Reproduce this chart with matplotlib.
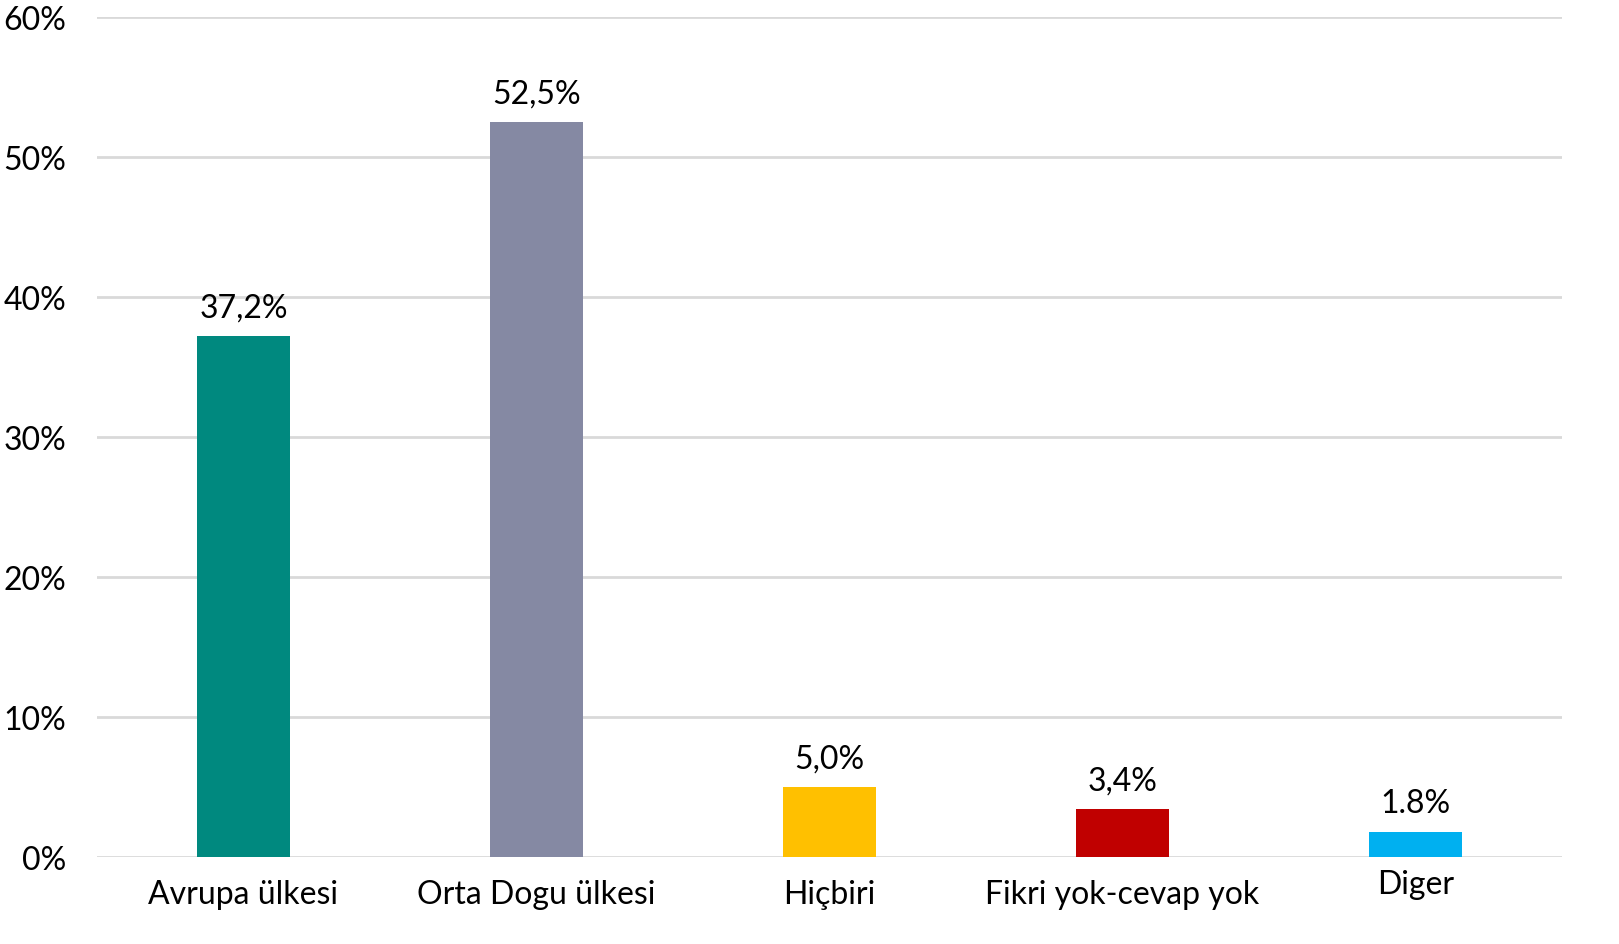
import matplotlib
matplotlib.use("Agg")
import matplotlib.pyplot as plt
from matplotlib.ticker import FuncFormatter

categories = ["Avrupa ülkesi", "Orta Dogu ülkesi", "Hiçbiri", "Fikri yok-cevap yok", "Diger"]
values = [37.2, 52.5, 5.0, 3.4, 1.8]
value_labels = ["37,2%", "52,5%", "5,0%", "3,4%", "1.8%"]
colors = ["#00897F", "#8589A3", "#FFC000", "#C00000", "#00B0F0"]
yticks = [0, 10, 20, 30, 40, 50, 60]

plt.rcParams['font.family'] = ['Lato', 'DejaVu Sans']

fig = plt.figure(figsize=(16.19, 9.45), dpi=100)
ax = fig.add_axes([0.0599, 0.0921, 0.9049, 0.8889])

x = list(range(len(categories)))
ax.bar(x, values, width=0.315, color=colors, zorder=3)
for xi, v, lab in zip(x, values, value_labels):
    ax.annotate(lab, (xi, v), xytext=(0, 10), textcoords="offset points",
                ha="center", va="bottom", fontsize=23, color="#000000")

ax.set_xlim(-0.5, len(categories) - 0.5)
ax.set_ylim(0, 60)
ax.set_yticks(yticks)
ax.yaxis.set_major_formatter(FuncFormatter(lambda v, p: f"{int(v)}%"))
ax.set_xticks(x)
ax.set_xticklabels(categories)
ax.tick_params(axis="both", length=0, labelsize=23, colors="#000000")
ax.tick_params(axis="y", pad=22)
ax.tick_params(axis="x", pad=16)
ax.xaxis.get_major_ticks()[4].set_pad(9)
ax.grid(axis="y", color="#D9D9D9", linewidth=2, zorder=0)
ax.set_axisbelow(True)
for s in ax.spines.values():
    s.set_visible(False)

fig.savefig("out.png", dpi=100)
